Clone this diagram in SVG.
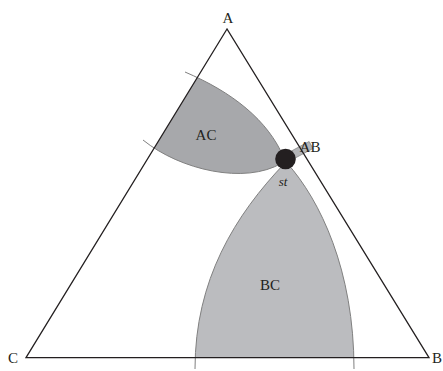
<svg xmlns="http://www.w3.org/2000/svg" width="443" height="371" viewBox="0 0 443 371">
<style>
.lbl{font-family:"Liberation Serif","Times New Roman",serif;font-size:15px;fill:#231f20;text-anchor:middle}
.it{font-style:italic;font-size:13px}
.bd{fill:none;stroke:#808080;stroke-width:1}
.tri{fill:none;stroke:#231f20;stroke-width:1.3;stroke-linejoin:miter}
</style>
<defs>
<clipPath id="triclip"><polygon points="227,29 26,357.7 429,357.7"/></clipPath>
</defs>
<rect width="443" height="371" fill="#fff"/>
<g id="regions">
<g id="AC">
<path clip-path="url(#triclip)" d="M185,72 C232,92 268,120 284,158 L282,163 C245,185 180,170 143,140 Z" fill="#a7a8ab"/>
<path class="bd" d="M185,72 C232,92 268,120 284,158"/>
<path class="bd" d="M143,140 C180,170 245,185 282,163"/>
<text class="lbl" x="206" y="140">AC</text>
</g>
<g id="BC">
<path clip-path="url(#triclip)" d="M285,163 C235,215 195,280 195,369 L354,369 C354,270 320,200 287,163 Z" fill="#bbbcbf"/>
<path class="bd" d="M285,163 C235,215 195,280 195,369"/>
<path class="bd" d="M287,163 C320,200 354,270 354,369"/>
<text class="lbl" x="270" y="290">BC</text>
</g>
<g id="AB">
<polygon points="288.1,152.8 309.1,141.5 312.9,148.5 291.9,159.8" fill="#b4b5b8" stroke="#888" stroke-width="0.8"/>
</g>
</g>
<g id="connectors">
<polygon class="tri" points="227,29 26,357.7 429,357.7"/>
</g>
<g id="labels">
<text class="lbl" x="228" y="23">A</text>
<text class="lbl" x="13" y="363">C</text>
<text class="lbl" x="432" y="363" style="text-anchor:start">B</text>
<text class="lbl" x="310" y="152">AB</text>
</g>
<g id="st">
<circle cx="285.5" cy="159" r="10.3" fill="#231f20"/>
<text class="lbl it" x="283" y="186">st</text>
</g>
</svg>
